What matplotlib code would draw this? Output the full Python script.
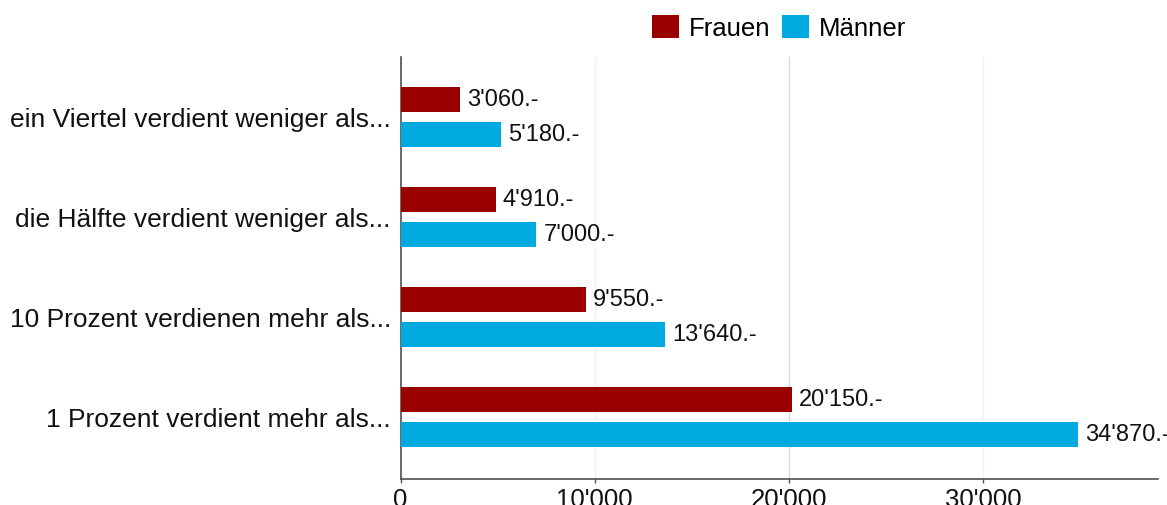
import numpy as np
import matplotlib
matplotlib.use('Agg')
import matplotlib.pyplot as plt
from matplotlib.ticker import FuncFormatter

plt.rcParams['font.family'] = ['Liberation Sans', 'DejaVu Sans']

categories = ['ein Viertel verdient weniger als...',
              'die Hälfte verdient weniger als...',
              '10 Prozent verdienen mehr als...',
              '1 Prozent verdient mehr als...']
frauen = [3060, 4910, 9550, 20150]
maenner = [5180, 7000, 13640, 34870]
xticks = [0, 10000, 20000, 30000]

col_f = '#9b0000'
col_m = '#00a9df'


def chf(v):
    # 34870 -> 34'870
    return '{:,}'.format(int(v)).replace(',', "'")


fig = plt.figure(figsize=(11.67, 5.06), dpi=100)
ax = fig.add_axes([0.3432, 0.0514, 0.6491, 0.834])

y = np.arange(len(categories))
h = 0.25
off = 0.175
bf = ax.barh(y - off, frauen, height=h, color=col_f, label='Frauen', zorder=3)
bm = ax.barh(y + off, maenner, height=h, color=col_m, label='Männer', zorder=3)

for bars, vals in ((bf, frauen), (bm, maenner)):
    for b, v in zip(bars, vals):
        ax.annotate(chf(v) + '.-', (v, b.get_y() + b.get_height() / 2),
                    xytext=(5, 0), textcoords='offset points',
                    va='center', ha='left', fontsize=17, color='#111111',
                    annotation_clip=False)

ax.set_xlim(0, 39000)
ax.set_ylim(3.62, -0.6)
ax.set_xticks(xticks)
ax.xaxis.set_major_formatter(FuncFormatter(lambda v, p: chf(v)))
ax.set_yticks(y)
ax.set_yticklabels(categories)

ax.tick_params(axis='x', length=3, width=1, color='#555555', pad=3,
               labelsize=18.5, labelcolor='#111111')
ax.tick_params(axis='y', length=0, pad=7, labelsize=19, labelcolor='#111111')

# gridlines: the one at 20'000 shows clearly, the others only faintly
ax.grid(axis='x', linewidth=1, zorder=0)
ax.set_axisbelow(True)
for v, gl in zip(xticks, ax.get_xgridlines()):
    gl.set_color('#d9d9d9' if v == 20000 else '#f1f1f1')

for s in ('top', 'right'):
    ax.spines[s].set_visible(False)
for s in ('left', 'bottom'):
    ax.spines[s].set_color('#505050')
    ax.spines[s].set_linewidth(1.2)

fig.legend(handles=[bf, bm], labels=['Frauen', 'Männer'], ncol=2,
           loc='center', bbox_to_anchor=(0.6675, 0.9437), frameon=False,
           fontsize=18.5, handlelength=1.05, handleheight=1.05,
           handletextpad=0.4, columnspacing=0.45, borderpad=0)

fig.savefig('out.png', dpi=100)
